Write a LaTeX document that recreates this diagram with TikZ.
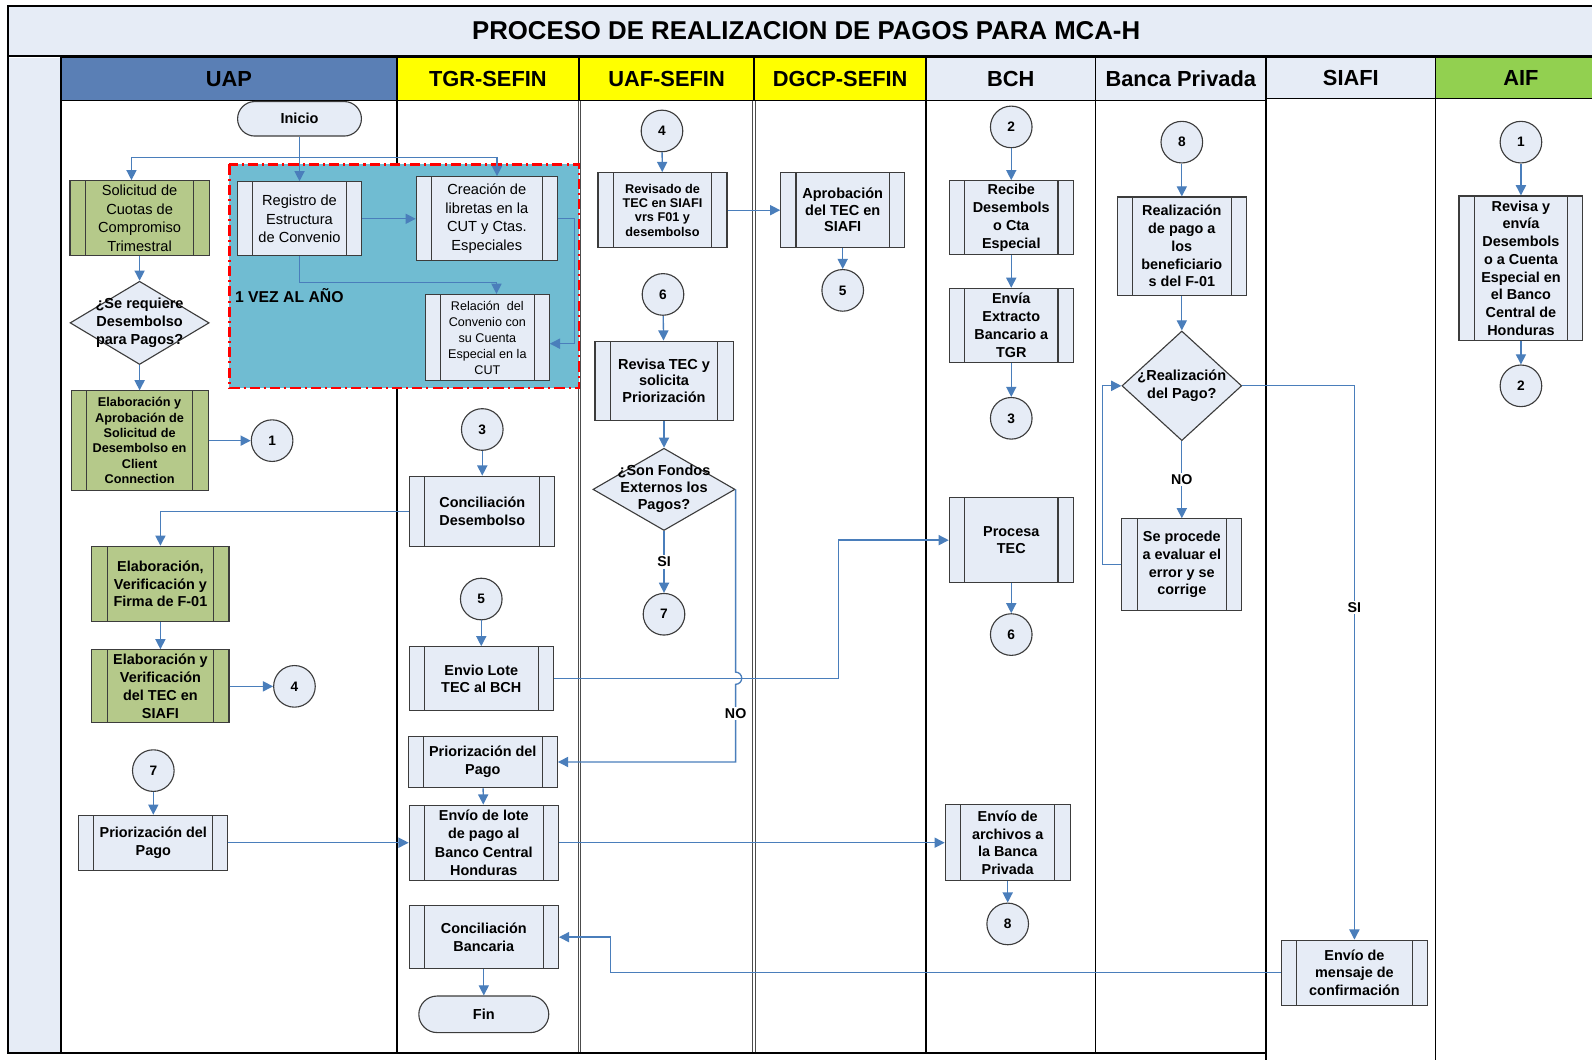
\documentclass[tikz,border=0pt]{standalone}
\usepackage{fontspec}
\setmainfont{Liberation Sans}
\usetikzlibrary{arrows.meta,shapes.geometric,calc}

\definecolor{boxfill}{HTML}{E6ECF6}
\definecolor{boxline}{HTML}{3C3C3C}
\definecolor{greenfill}{HTML}{B5C98A}
\definecolor{zonefill}{HTML}{70BCD2}
\definecolor{linkblue}{HTML}{4A7EBB}
\definecolor{uapblue}{HTML}{5A7FB5}
\definecolor{aifgreen}{HTML}{92D050}
\definecolor{laneyellow}{HTML}{FFFF00}

\newcommand{\dtext}[1]{\smash{\makebox[0pt]{\raisebox{-.25em}{\begin{tabular}{@{}c@{}}#1\end{tabular}}}}}

\begin{document}
\begin{tikzpicture}[
    x=1pt, y=-1pt,
    proc/.style={draw=boxline, fill=boxfill, line width=1.1pt, align=center, inner sep=1pt,
      font=\fontsize{14.2}{17.5}\selectfont\bfseries,
      path picture={\draw[boxline, line width=1.1pt]
        ([xshift=15pt]path picture bounding box.north west) -- ([xshift=15pt]path picture bounding box.south west)
        ([xshift=-15pt]path picture bounding box.north east) -- ([xshift=-15pt]path picture bounding box.south east);}},
    gproc/.style={proc, fill=greenfill},
    normaltxt/.style={font=\fontsize{14.4}{18.3}\selectfont\mdseries},
    smalltxt/.style={font=\fontsize{12.5}{15.2}\selectfont\bfseries},
    conn/.style={circle, draw=boxline, fill=boxfill, line width=1.1pt, minimum size=41pt, inner sep=0pt,
      font=\fontsize{13.5}{16}\selectfont\bfseries},
    decision/.style={diamond, draw=boxline, fill=boxfill, line width=1.1pt, inner sep=0pt,
      font=\fontsize{14.3}{18}\selectfont\bfseries},
    term/.style={draw=boxline, fill=boxfill, line width=1.1pt, rounded corners=17pt, inner sep=0pt,
      font=\fontsize{14.3}{17}\selectfont\bfseries},
    lanehead/.style={draw=black, line width=1.2pt, minimum height=42pt, inner sep=0pt,
      font=\fontsize{21.5}{24}\selectfont\bfseries},
    link/.style={draw=linkblue, line width=1.3pt, -{Triangle[length=10pt,width=10pt]}},
    lbl/.style={fill=white, inner sep=1.5pt, font=\fontsize{14}{16}\selectfont\bfseries}
]
\useasboundingbox (0,0) rectangle (1568,1044);
\clip (0,0) rectangle (1568,1044);

\node[draw=black, line width=2pt, fill=boxfill, minimum width=1572pt, minimum height=49pt, inner sep=0pt,
  font=\fontsize{25.4}{28}\selectfont\bfseries] (title) at (794,30.5) {PROCESO DE REALIZACION DE PAGOS PARA MCA-H};

\fill[boxfill] (8,57) rectangle (60,1037);
\node[lanehead, fill=uapblue, minimum width=331pt] (hUAP) at (225.5,78) {UAP};
\node[lanehead, fill=laneyellow, minimum width=179pt] (hTGR) at (480.5,78) {TGR-SEFIN};
\node[lanehead, fill=laneyellow, minimum width=172pt] (hUAF) at (656.5,78) {UAF-SEFIN};
\node[lanehead, fill=laneyellow, minimum width=169pt] (hDGCP) at (827.5,78) {DGCP-SEFIN};
\node[lanehead, fill=boxfill, minimum width=167pt] (hBCH) at (995.5,78) {BCH};
\node[lanehead, fill=boxfill, minimum width=168pt] (hBP) at (1163,78) {Banca Privada};
\node[lanehead, fill=boxfill, minimum width=167pt, minimum height=40pt] (hSIAFI) at (1330.5,77) {SIAFI};
\node[lanehead, fill=aifgreen, minimum width=168pt, minimum height=40pt] (hAIF) at (1498,77) {AIF};

\draw[line width=1.2pt] (60,57) -- (60,1037) (391,99) -- (391,1037) (912,99) -- (912,1037) (1079,99) -- (1079,1037);
\draw[line width=1pt, black!70] (569.5,99) -- (569.5,1037) (572,99) -- (572,1037) (741.5,99) -- (741.5,1037) (744,99) -- (744,1037);
\draw[line width=1pt] (1414,97) -- (1414,1044);
\draw[line width=2pt] (8,6) -- (8,1037) -- (1247,1037) (1247,57) -- (1247,1044);

\fill[zonefill] (226,162) rectangle (570,382);
\draw[red, line width=2.4pt, dash pattern=on 10pt off 4pt on 2pt off 4pt] (226,162) rectangle (570,382);
\node[anchor=west, font=\fontsize{15.5}{18}\selectfont\bfseries] (vez) at (228,291) {1 VEZ AL AÑO};

\node[term, minimum width=122pt, minimum height=34pt] (inicio) at (295,117) {Inicio};
\node[gproc, normaltxt, minimum width=137pt, minimum height=74pt] (solicitud) at (137.5,215) {Solicitud de\\Cuotas de\\Compromiso\\Trimestral};
\node[decision, minimum width=137pt, minimum height=82pt] (q1) at (137.5,318) {\dtext{¿Se requiere\\Desembolso\\para Pagos?}};
\node[gproc, smalltxt, minimum width=135pt, minimum height=98pt] (elabsol) at (137.5,434) {Elaboración y\\Aprobación de\\Solicitud de\\Desembolso en\\Client\\Connection};
\node[conn] (c1a) at (268,434) {1};
\node[gproc, minimum width=135pt, minimum height=74pt] (elabf01) at (158,575) {Elaboración,\\Verificación y\\Firma de F-01};
\node[gproc, minimum width=135pt, minimum height=72pt] (elabtec) at (158,676) {Elaboración y\\Verificación\\del TEC en\\SIAFI};
\node[conn] (c4a) at (290,676) {4};
\node[conn] (c7a) at (151,759) {7};
\node[proc, minimum width=147pt, minimum height=54pt] (priouap) at (151,830) {Priorización del\\Pago};

\node[proc, normaltxt, minimum width=122pt, minimum height=73pt] (registro) at (295,215.5) {Registro de\\Estructura\\de Convenio};
\node[proc, normaltxt, minimum width=139pt, minimum height=83pt] (creacion) at (479.5,215.5) {Creación de\\libretas en la\\CUT y Ctas.\\Especiales};
\node[proc, font=\fontsize{12.4}{15.8}\selectfont\mdseries, minimum width=122pt, minimum height=85pt] (relacion) at (480,332.5) {Relación\ \ del\\Convenio con\\su Cuenta\\Especial en la\\CUT};

\node[conn] (c3a) at (475,423) {3};
\node[proc, minimum width=143pt, minimum height=69pt] (concdes) at (475,503.5) {Conciliación\\Desembolso};
\node[conn] (c5a) at (474,590) {5};
\node[proc, minimum width=142pt, minimum height=63pt] (enviolote) at (474,668.5) {Envio Lote\\TEC al BCH};
\node[proc, minimum width=147pt, minimum height=51pt] (priotgr) at (475.5,750.5) {Priorización del\\Pago};
\node[proc, font=\fontsize{14.2}{18.3}\selectfont\bfseries, minimum width=147pt, minimum height=74pt] (enviobch) at (476.5,830) {Envío de lote\\de pago al\\Banco Central\\Honduras};
\node[proc, minimum width=147pt, minimum height=62pt] (concban) at (476.5,923) {Conciliación\\Bancaria};
\node[term, rounded corners=18pt, minimum width=128pt, minimum height=36pt] (fin) at (476.5,999) {Fin};

\node[conn] (c4b) at (652,129) {4};
\node[proc, font=\fontsize{12.5}{14.2}\selectfont\bfseries, minimum width=127pt, minimum height=74pt] (revisado) at (652.5,207) {Revisado de\\TEC en SIAFI\\vrs F01 y\\desembolso};
\node[conn] (c6a) at (653,290) {6};
\node[proc, font=\fontsize{14.3}{16.3}\selectfont\bfseries, minimum width=136pt, minimum height=78pt] (revisatec) at (654,375) {Revisa TEC y\\solicita\\Priorización};
\node[decision, font=\fontsize{14.3}{16.5}\selectfont\bfseries, minimum width=140pt, minimum height=81pt] (q2) at (654,482) {\dtext{¿Son Fondos\\Externos los\\Pagos?}};
\node[conn] (c7b) at (654,605) {7};

\node[proc, font=\fontsize{14.3}{16.2}\selectfont\bfseries, minimum width=122pt, minimum height=74pt] (aprob) at (830,207) {Aprobación\\del TEC en\\SIAFI};
\node[conn] (c5b) at (830,286) {5};

\node[conn] (c2a) at (996,125) {2};
\node[proc, minimum width=122pt, minimum height=73pt] (recibe) at (996,214.5) {Recibe\\Desembols\\o Cta\\Especial};
\node[proc, minimum width=122pt, minimum height=73pt] (envia) at (996,320.5) {Envía\\Extracto\\Bancario a\\TGR};
\node[conn] (c3b) at (996,412) {3};
\node[proc, minimum width=122pt, minimum height=84pt] (procesa) at (996,532) {Procesa\\TEC};
\node[conn] (c6b) at (996,625) {6};
\node[proc, minimum width=123pt, minimum height=75pt] (envarch) at (992.5,830) {Envío de\\archivos a\\la Banca\\Privada};
\node[conn] (c8a) at (992.5,910) {8};

\node[conn] (c8b) at (1164,140) {8};
\node[proc, minimum width=127pt, minimum height=97pt] (realiz) at (1164,242.5) {Realización\\de pago a\\los\\beneficiario\\s del F-01};
\node[decision, font=\fontsize{14.3}{17.3}\selectfont\bfseries, minimum width=118pt, minimum height=108pt] (q3) at (1164,380) {\dtext{¿Realización\\del Pago?}};
\node[proc, minimum width=118pt, minimum height=90pt] (seproc) at (1164,556) {Se procede\\a evaluar el\\error y se\\corrige};

\node[proc, minimum width=144pt, minimum height=64pt] (mensaje) at (1334,958) {Envío de\\mensaje de\\confirmación};

\node[conn] (c1b) at (1498,140) {1};
\node[proc, minimum width=122pt, minimum height=142pt] (revisa) at (1498,264) {Revisa y\\envía\\Desembols\\o a Cuenta\\Especial en\\el Banco\\Central de\\Honduras};
\node[conn] (c2b) at (1498,380) {2};

\coordinate (split) at (295,155);
\coordinate (kA) at (826,532);
\coordinate (kB) at (601,958);
\coordinate (kC) at (1086,556);

\draw[link] (inicio) -- (registro);
\draw[link] (split) -| ($(solicitud.north)+(-8,0)$);
\draw[link] (split) -| ($(creacion.north)+(10,0)$);
\draw[link] (registro) -- (creacion);
\draw[link] (registro.south) -- ++(0,26) -| ($(relacion.north)+(9,0)$);
\draw[link] (creacion.east) -- ++(16,0) |- ($(relacion.east)+(0,6)$);
\draw[link] (solicitud) -- (q1);
\draw[link] (q1) -- (elabsol);
\draw[link] (elabsol) -- (c1a);
\draw[link] (concdes) -| (elabf01);
\draw[link] (elabf01) -- (elabtec);
\draw[link] (elabtec) -- (c4a);
\draw[link] (c7a) -- (priouap);
\draw[link] (priouap) -- (enviobch);
\draw[link] (c3a) -- (concdes);
\draw[link] (c5a) -- (enviolote);
\draw[link] (enviolote) -| (kA) -- (procesa);
\draw[link] (priotgr) -- (enviobch);
\draw[link] (enviobch) -- (envarch);
\draw[link] (concban) -- (fin);
\draw[link] (mensaje) -- (kB) |- (concban);
\draw[link] (c4b) -- (revisado);
\draw[link] (revisado) -- (aprob);
\draw[link] (c6a) -- (revisatec);
\draw[link] (revisatec) -- (q2);
\draw[link] (q2) -- node[lbl] {SI} (c7b);
\draw[link] (q2.east) -- ++(0,180) arc[start angle=-90, end angle=90, radius=6] |- node[lbl, pos=0.19] {NO} (priotgr);
\draw[link] (aprob) -- (c5b);
\draw[link] (c2a) -- (recibe);
\draw[link] (recibe) -- (envia);
\draw[link] (envia) -- (c3b);
\draw[link] (procesa) -- (c6b);
\draw[link] (envarch) -- (c8a);
\draw[link] (c8b) -- (realiz);
\draw[link] (realiz) -- (q3);
\draw[link] (q3) -- node[lbl] {NO} (seproc);
\draw[link] (seproc) -- (kC) |- (q3);
\draw[link] (q3) -| node[lbl, pos=0.7] {SI} (mensaje);
\draw[link] (c1b) -- (revisa);
\draw[link] (revisa) -- (c2b);
\end{tikzpicture}
\end{document}
